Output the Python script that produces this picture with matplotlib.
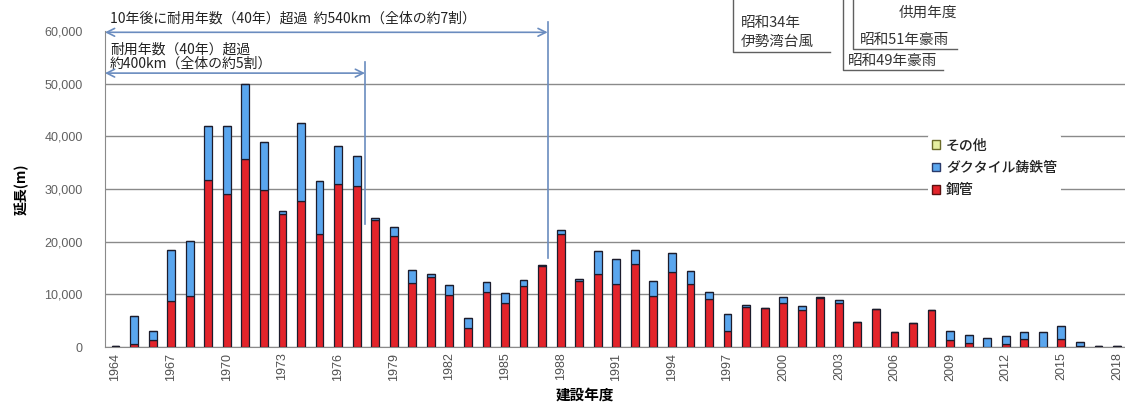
import numpy as np
import matplotlib
matplotlib.use("Agg")
import matplotlib.pyplot as plt
from matplotlib.patches import Patch
from matplotlib.lines import Line2D

plt.rcParams['font.family'] = ['Noto Sans CJK JP', 'DejaVu Sans']

# データ（建設年度ごとの延長 m）
years = list(range(1964, 2019))
kokan = [200, 500, 1400, 8800, 9600, 31800, 29100, 35600, 29800, 25300,
         27800, 21400, 31000, 30600, 24100, 21100, 12100, 13300, 9800, 3700,
         10500, 8400, 11500, 15400, 21400, 12500, 13800, 11900, 15700, 9700,
         14300, 12000, 9200, 3100, 7600, 7500, 8300, 7100, 9300, 8400,
         4700, 7300, 2800, 4500, 7100, 1400, 700, 0, 600, 1600,
         0, 1600, 100, 100, 100]
ductile = [0, 5400, 1600, 9600, 10600, 10200, 12900, 14400, 9100, 600,
           14700, 10200, 7100, 5600, 300, 1700, 2500, 500, 1900, 1900,
           1900, 1800, 1200, 100, 800, 500, 4400, 4900, 2700, 2900,
           3500, 2400, 1200, 3200, 300, 0, 1100, 700, 200, 600,
           0, 0, 0, 0, 0, 1600, 1500, 1700, 1400, 1200,
           2800, 2300, 800, 0, 0]
sonota = [0] * len(years)

labels = ["その他", "ダクタイル鋳鉄管", "鋼管"]
c_red = "#E3242B"
c_blue = "#5AA6EE"
c_other = "#E6EFA0"
c_line = "#6A8CBF"

x = np.arange(len(years))
kokan = np.array(kokan)
ductile = np.array(ductile)
sonota = np.array(sonota)

fig = plt.figure(figsize=(11.25, 4.05), dpi=100)
ax = fig.add_axes([0.0933, 0.1432, 0.9067, 0.7803])

ec = "#1c1c2c"
ax.bar(x, kokan, width=0.42, color=c_red, edgecolor=ec, linewidth=0.9, zorder=3)
ax.bar(x, ductile, width=0.42, bottom=kokan, color=c_blue, edgecolor=ec, linewidth=0.9, zorder=3)
ax.bar(x, sonota, width=0.42, bottom=kokan + ductile, color=c_other, edgecolor=ec, linewidth=0.9, zorder=3)

ax.set_xlim(-0.57, 54.43)
ax.set_ylim(0, 60000)
ax.set_yticks(range(0, 60001, 10000))
ax.set_yticklabels([f"{v:,}" for v in range(0, 60001, 10000)],
                   fontsize=9, color="#606060", family="Liberation Sans")
ax.set_xticks(x[::3])
ax.set_xticklabels([str(y) for y in years[::3]], rotation=90,
                   fontsize=9, color="#505050", family="Liberation Sans")
ax.tick_params(length=0, pad=4)
ax.tick_params(axis="y", pad=16)

ax.grid(axis="y", color="#8a8a8a", linewidth=1.0, zorder=0)
ax.get_ygridlines()[-1].set_visible(False)
for s in ["top", "right"]:
    ax.spines[s].set_visible(False)
ax.spines["left"].set_color("#8a8a8a")
ax.spines["bottom"].set_color("#8a8a8a")

ax.set_ylabel("延長(m)", fontsize=10, fontweight="bold")
ax.set_xlabel("建設年度", fontsize=10.5, fontweight="bold")
ax.xaxis.set_label_coords(0.47, -0.125)
ax.yaxis.set_label_coords(-0.075, 0.5)

# 耐用年数の注記
arrow = dict(arrowstyle="<->", color=c_line, lw=1.2, mutation_scale=14, shrinkA=0, shrinkB=0)
ax.annotate("", xy=(-0.57, 59750), xytext=(23.3, 59750), arrowprops=arrow,
            annotation_clip=False, zorder=5)
ax.plot([23.3, 23.3], [16900, 61700], color=c_line, lw=1.2, clip_on=False, zorder=5)
ax.annotate("", xy=(-0.57, 52000), xytext=(13.45, 52000), arrowprops=arrow,
            annotation_clip=False, zorder=5)
ax.plot([13.45, 13.45], [23300, 54200], color=c_line, lw=1.2, clip_on=False, zorder=5)

ax.text(-0.3, 62300, "10年後に耐用年数（40年）超過  約540km（全体の約7割）",
        fontsize=10, va="center", ha="left", color="#222222")
ax.text(-0.3, 56500, "耐用年数（40年）超過", fontsize=10, va="center", ha="left", color="#222222")
ax.text(-0.3, 53700, "約400km（全体の約5割）", fontsize=10, va="center", ha="left", color="#222222")

# 右上の災害注記（図座標）
W, H = 1125.0, 405.0
def fl(xs, ys):
    fig.add_artist(Line2D([v / W for v in xs], [1 - v / H for v in ys],
                          color="#606060", lw=1.0, transform=fig.transFigure))

fl([733, 733, 830], [0, 52, 52])
fl([843, 843, 943], [0, 70, 70])
fl([853, 853, 957], [0, 49, 49])
fig.text(741 / W, 1 - 23 / H, "昭和34年", fontsize=10.5, va="center", color="#333333")
fig.text(741 / W, 1 - 42 / H, "伊勢湾台風", fontsize=10.5, va="center", color="#333333")
fig.text(848 / W, 1 - 61 / H, "昭和49年豪雨", fontsize=10.5, va="center", color="#333333")
fig.text(860 / W, 1 - 40 / H, "昭和51年豪雨", fontsize=10.5, va="center", color="#333333")
fig.text(957 / W, 1 - 13 / H, "供用年度", fontsize=10.5, va="center", ha="right", color="#333333")

handles = [Patch(facecolor=c_other, edgecolor="#6b6b2a", lw=1.0),
           Patch(facecolor=c_blue, edgecolor="#2a3a6a", lw=1.0),
           Patch(facecolor=c_red, edgecolor="#5a1010", lw=1.0)]
leg = ax.legend(handles, labels, loc="center left", bbox_to_anchor=(0.8, 0.567),
                frameon=True, fontsize=10, handlelength=0.6, handleheight=0.6,
                handletextpad=0.4, labelspacing=0.6, borderpad=0.3, framealpha=1)
leg.get_frame().set_edgecolor("white")
leg.get_frame().set_linewidth(0)
leg.set_zorder(6)
for t in leg.get_texts():
    t.set_fontweight("medium")
    t.set_color("#222222")

plt.savefig("out.png", dpi=100)
